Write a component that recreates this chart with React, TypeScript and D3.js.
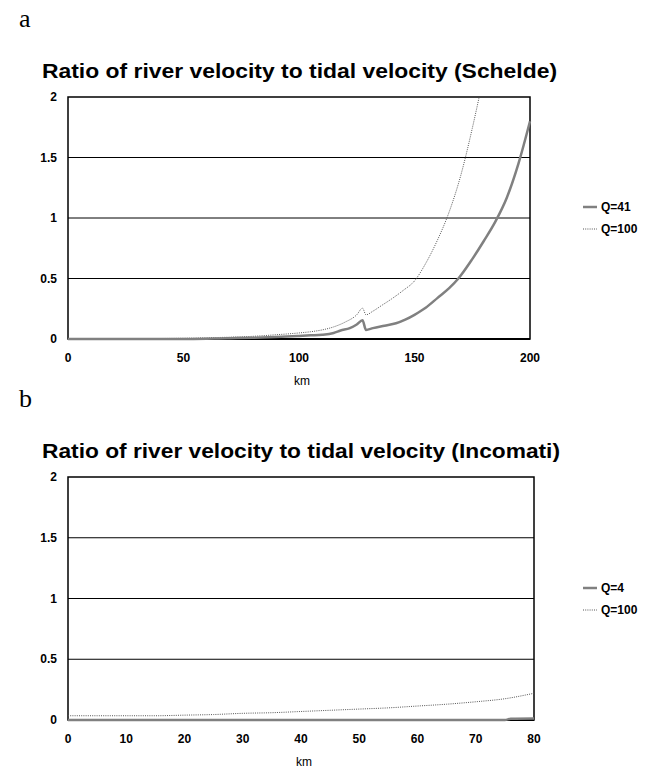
import React, { useEffect, useRef } from 'react';
import * as d3 from 'd3';

// Schelde (panel a)
const scheldeKm41 = [0, 10, 20, 30, 40, 50, 60, 65, 70, 80, 90, 100, 105, 110, 115, 118, 122, 125, 127.5, 129, 132, 137, 142, 146, 150, 155, 160, 165, 169, 175, 180, 185, 190, 195, 200];
const scheldeQ41 = [0, 0, 0, 0, 0, 0, 0.002, 0.004, 0.006, 0.01, 0.016, 0.025, 0.03, 0.035, 0.05, 0.07, 0.09, 0.12, 0.155, 0.075, 0.09, 0.11, 0.13, 0.16, 0.2, 0.26, 0.34, 0.42, 0.5, 0.66, 0.81, 0.97, 1.17, 1.45, 1.8];
const scheldeKm100 = [0, 10, 20, 30, 40, 50, 60, 70, 80, 90, 100, 105, 110, 115, 120, 125, 127.5, 129, 132, 136, 140, 145, 150, 155, 160, 165, 170, 175, 178];
const scheldeQ100 = [0.002, 0.002, 0.002, 0.003, 0.004, 0.006, 0.01, 0.015, 0.022, 0.035, 0.05, 0.06, 0.075, 0.1, 0.14, 0.2, 0.255, 0.2, 0.23, 0.28, 0.33, 0.4, 0.48, 0.63, 0.82, 1.05, 1.35, 1.74, 2.0];
const scheldeXTicks = [0, 50, 100, 150, 200];

// Incomati (panel b)
const incomatiKm4 = [0, 20, 40, 60, 75, 76, 80];
const incomatiQ4 = [0, 0, 0, 0, 0, 0.01, 0.012];
const incomatiKm100 = [0, 5, 10, 15, 20, 25, 30, 35, 40, 45, 50, 55, 60, 65, 70, 75, 80];
const incomatiQ100 = [0.035, 0.035, 0.035, 0.035, 0.04, 0.045, 0.055, 0.06, 0.07, 0.08, 0.09, 0.1, 0.115, 0.13, 0.15, 0.175, 0.22];
const incomatiXTicks = [0, 10, 20, 30, 40, 50, 60, 70, 80];

const yTicks = [0, 0.5, 1, 1.5, 2];
const yTickLabels = ['0', '0.5', '1', '1.5', '2'];

const FONT = '"Liberation Sans", Arial, sans-serif';

function Panel(props: any) {
    const ref = useRef<SVGGElement>(null);

    useEffect(() => {
        const { top, left, right, bottom, xMax, xTicks, solidKm, solid, dotKm, dot } = props;
        const g = d3.select(ref.current);
        g.selectAll('*').remove();

        const x = d3.scaleLinear().domain([0, xMax]).range([left, right]);
        const y = d3.scaleLinear().domain([0, 2]).range([bottom, top]);

        // gridlines
        g.selectAll('.grid').data(yTicks.slice(1, 4)).join('line').attr('class', 'grid')
            .attr('x1', left).attr('x2', right)
            .attr('y1', d => y(d)).attr('y2', d => y(d))
            .attr('stroke', '#000').attr('stroke-width', 1);

        // frame
        g.append('rect').attr('x', left).attr('y', top)
            .attr('width', right - left).attr('height', bottom - top)
            .attr('fill', 'none').attr('stroke', '#000').attr('stroke-width', 1.5);
        g.append('line').attr('x1', left).attr('x2', right).attr('y1', bottom).attr('y2', bottom)
            .attr('stroke', '#000').attr('stroke-width', 2);

        // y labels
        g.selectAll('.ylab').data(yTicks).join('text').attr('class', 'ylab')
            .attr('x', left - 11).attr('y', d => y(d) + 4)
            .attr('text-anchor', 'end').attr('font-size', 12).attr('font-weight', 'bold')
            .attr('font-family', FONT)
            .text((d, i) => yTickLabels[i]);

        // x labels
        g.selectAll('.xlab').data(xTicks).join('text').attr('class', 'xlab')
            .attr('x', d => x(d)).attr('y', bottom + 23)
            .attr('text-anchor', 'middle').attr('font-size', 12).attr('font-weight', 'bold')
            .attr('font-family', FONT)
            .text(d => d);

        g.append('text').attr('x', (left + right) / 2 + 3).attr('y', bottom + 46)
            .attr('text-anchor', 'middle').attr('font-size', 12).attr('font-family', FONT)
            .text('km');

        // title
        g.append('text').attr('x', 42).attr('y', top - 19)
            .attr('font-size', 21).attr('font-weight', 'bold')
            .attr('font-family', FONT)
            .attr('textLength', props.titleWidth).attr('lengthAdjust', 'spacingAndGlyphs')
            .text(props.title);

        // panel letter
        g.append('text').attr('x', 19).attr('y', top - 70)
            .attr('font-size', 26).attr('font-family', '"Liberation Serif", "Times New Roman", serif')
            .text(props.letter);

        const line = d3.line<[number, number]>()
            .x(d => x(d[0])).y(d => y(d[1]))
            .curve(d3.curveMonotoneX);

        g.append('path').datum(dotKm.map((k: number, i: number) => [k, dot[i]]))
            .attr('d', line).attr('fill', 'none')
            .attr('stroke', '#555').attr('stroke-width', 1).attr('stroke-dasharray', '1,1.2');

        g.append('path').datum(solidKm.map((k: number, i: number) => [k, solid[i]]))
            .attr('d', line).attr('fill', 'none')
            .attr('stroke', '#808080').attr('stroke-width', 2.5);

        // legend
        const ly = props.legendY;
        g.append('line').attr('x1', 583).attr('x2', 597).attr('y1', ly).attr('y2', ly)
            .attr('stroke', '#808080').attr('stroke-width', 2.5);
        g.append('text').attr('x', 601).attr('y', ly + 4).attr('font-size', 12)
            .attr('font-weight', 'bold').attr('font-family', FONT).text(props.solidLabel);
        g.append('line').attr('x1', 583).attr('x2', 597).attr('y1', ly + 22).attr('y2', ly + 22)
            .attr('stroke', '#555').attr('stroke-width', 1).attr('stroke-dasharray', '1,1.2');
        g.append('text').attr('x', 601).attr('y', ly + 26).attr('font-size', 12)
            .attr('font-weight', 'bold').attr('font-family', FONT).text('Q=100');
    }, [props]);

    return <g ref={ref}></g>;
}

export default function App() {
    return (
        <svg width={661} height={768} style={{ position: 'absolute', left: 0, top: 0, background: '#fff' }}>
            <rect width={661} height={768} fill="#fff" />
            <Panel
                letter="a"
                title="Ratio of river velocity to tidal velocity (Schelde)"
                titleWidth={515}
                top={97} bottom={339} left={68} right={530}
                xMax={200} xTicks={scheldeXTicks}
                solidKm={scheldeKm41} solid={scheldeQ41}
                dotKm={scheldeKm100} dot={scheldeQ100}
                legendY={207} solidLabel="Q=41"
            />
            <Panel
                letter="b"
                title="Ratio of river velocity to tidal velocity (Incomati)"
                titleWidth={518}
                top={477} bottom={720} left={68} right={534}
                xMax={80} xTicks={incomatiXTicks}
                solidKm={incomatiKm4} solid={incomatiQ4}
                dotKm={incomatiKm100} dot={incomatiQ100}
                legendY={588} solidLabel="Q=4"
            />
        </svg>
    );
}
